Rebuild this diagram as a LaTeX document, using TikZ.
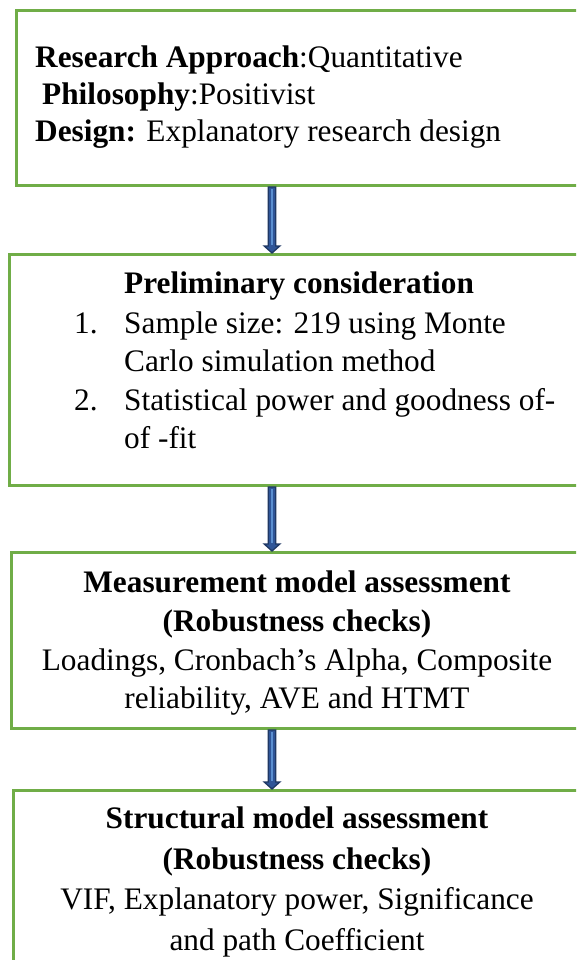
\documentclass[tikz,border=0pt]{standalone}
\usepackage{fontspec}
\setmainfont{Liberation Serif}[UprightFont={Liberation Serif}, BoldFont={Liberation Serif Bold}]
\usetikzlibrary{calc}
\definecolor{boxgreen}{HTML}{70AD47}
\definecolor{arrline}{HTML}{1F3864}
\definecolor{arrfill}{HTML}{2F5597}
\definecolor{arrlight}{HTML}{5B8FD0}
\tikzset{
  box/.style={draw=boxgreen, line width=3pt, rectangle, inner sep=0pt, anchor=north west},
  txt/.style={inner sep=0pt, font=\fontsize{31.3}{36}\selectfont},
  lineL/.style={txt, anchor=base west},
  lineC/.style={txt, anchor=base},
  blockarrow/.style={fill=arrfill, draw=arrline, line width=1.3pt, line join=miter},
  arrowstripe/.style={draw=arrlight, line width=1.6pt}
}
\newcommand\blockarrow[2]{%
  \path[blockarrow] let \p1=(#1), \p2=(#2) in
  ({\x1-3.8pt},\y1) -- ({\x1+3.8pt},\y1) -- ({\x1+3.8pt},{\y2+7pt}) --
  ({\x1+7.8pt},{\y2+7pt}) -- (\x1,\y2) -- ({\x1-7.8pt},{\y2+7pt}) --
  ({\x1-3.8pt},{\y2+7pt}) -- cycle;
  \path[arrowstripe] let \p1=(#1), \p2=(#2) in
  ({\x1},{\y1-2pt}) -- ({\x1},{\y2+8pt});}
\begin{document}
\begin{tikzpicture}[x=1pt,y=-1pt]
\useasboundingbox (0,0) rectangle (576,960);
\clip (0,0) rectangle (576,960);
\fill[white] (0,0) rectangle (576,960);
% boxes
\node[box, minimum width=590pt, minimum height=175pt] (b1) at (15,9) {};
\node[box, minimum width=600pt, minimum height=231pt] (b2) at (8,253) {};
\node[box, minimum width=600pt, minimum height=176pt] (b3) at (10,551) {};
\node[box, minimum width=600pt, minimum height=200pt] (b4) at (12,789) {};
% box 1 text
\node[lineL] (t1a) at (35,68) {\textbf{Research Approach}:Quantitative};
\node[lineL] (t1b) at (42,105) {\textbf{Philosophy}:Positivist};
\node[lineL] (t1c) at (35,142) {\textbf{Design:} Explanatory research design};
% box 2 text
\node[lineL] (t2a) at (124,293) {\textbf{Preliminary consideration}};
\node[lineL] (n1) at (74,333) {1.};
\node[lineL] (t2b) at (124,333) {Sample size: 219 using Monte};
\node[lineL] (t2c) at (124,371) {Carlo simulation method};
\node[lineL] (n2) at (74,410) {2.};
\node[lineL] (t2d) at (124,410) {Statistical power and goodness of-};
\node[lineL] (t2e) at (124,448) {of -fit};
% box 3 text
\node[lineC] (t3a) at (297,592) {\textbf{Measurement model assessment}};
\node[lineC] (t3b) at (297,631) {\textbf{(Robustness checks)}};
\node[lineC] (t3c) at (297,670) {Loadings, Cronbach’s Alpha, Composite};
\node[lineC] (t3d) at (297,708) {reliability, AVE and HTMT};
% box 4 text
\node[lineC] (t4a) at (297,828) {\textbf{Structural model assessment}};
\node[lineC] (t4b) at (297,869) {\textbf{(Robustness checks)}};
\node[lineC] (t4c) at (297,909) {VIF, Explanatory power, Significance};
\node[lineC] (t4d) at (297,950) {and path Coefficient};
% arrows
\coordinate (ax) at (272,0);
\blockarrow{b1.south -| ax}{b2.north -| ax}
\blockarrow{b2.south -| ax}{b3.north -| ax}
\blockarrow{b3.south -| ax}{b4.north -| ax}
\end{tikzpicture}
\end{document}
